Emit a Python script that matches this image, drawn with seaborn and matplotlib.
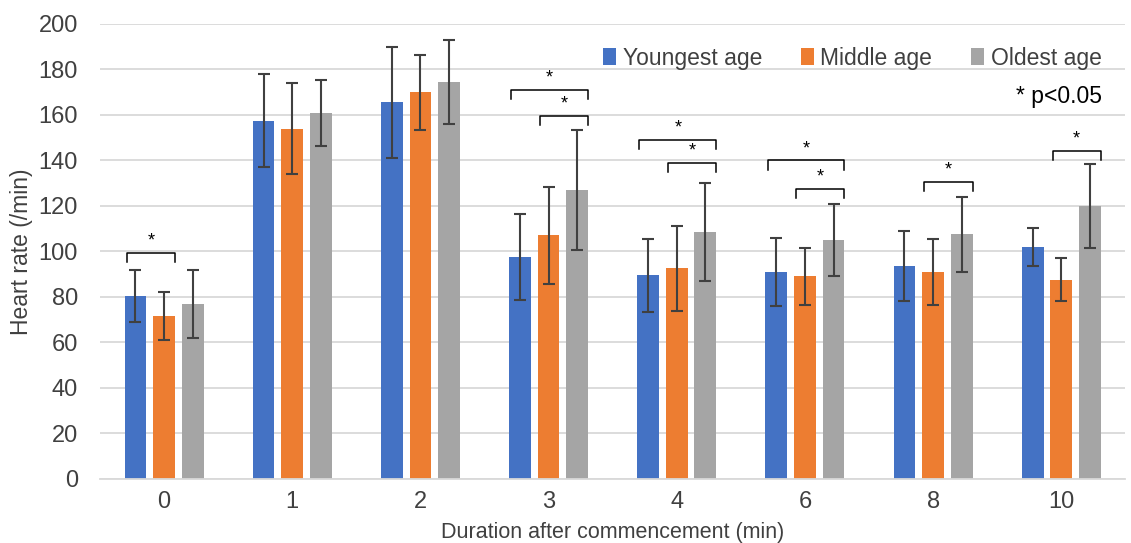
import numpy as np
import pandas as pd
import matplotlib
matplotlib.use('Agg')
import matplotlib.pyplot as plt
import seaborn as sns

# heart rate by time point and age group (mean, SD)
durations = ['0', '1', '2', '3', '4', '6', '8', '10']
groups = ['Youngest age', 'Middle age', 'Oldest age']
youngest = [80.5, 157.5, 165.5, 97.5, 89.5, 91.0, 93.5, 102.0]
youngest_sd = [11.5, 20.5, 24.5, 19.0, 16.0, 15.0, 15.5, 8.5]
middle = [71.5, 154.0, 170.0, 107.0, 92.5, 89.0, 91.0, 87.5]
middle_sd = [10.5, 20.0, 16.5, 21.5, 18.5, 12.5, 14.5, 9.5]
oldest = [77.0, 161.0, 174.5, 127.0, 108.5, 105.0, 107.5, 120.0]
oldest_sd = [15.0, 14.5, 18.5, 26.5, 21.5, 16.0, 16.5, 18.5]

# significance brackets: (duration index, first group, second group, height)
brackets = [(0, 0, 1, 99.5), (3, 0, 2, 171), (3, 1, 2, 159.5),
            (4, 0, 2, 149), (4, 1, 2, 139), (5, 0, 2, 140),
            (5, 1, 2, 127.5), (6, 1, 2, 130.5), (7, 1, 2, 144)]

colors = ['#4472C4', '#ED7D31', '#A5A5A5']
txt = '#404040'

df = pd.DataFrame({
    'duration': durations * 3,
    'group': np.repeat(groups, len(durations)),
    'rate': youngest + middle + oldest,
    'sd': youngest_sd + middle_sd + oldest_sd,
})

plt.rcParams['font.family'] = ['Liberation Sans', 'DejaVu Sans']
fig = plt.figure(figsize=(11.31, 5.43), dpi=100)
ax = fig.add_axes([0.0884, 0.118, 0.9066, 0.838])

sns.barplot(data=df, x='duration', y='rate', hue='group', palette=colors,
            width=0.67, gap=0.24, errorbar=None, ax=ax, saturation=1)

# error bars, taken from the drawn bar positions
bar_sets = list(ax.containers)
edges = {}
for gi, cont in enumerate(bar_sets):
    sub = df[df['group'] == groups[gi]]
    xs = [p.get_x() + p.get_width() / 2 for p in cont.patches]
    edges[gi] = [(p.get_x(), p.get_x() + p.get_width()) for p in cont.patches]
    ax.errorbar(xs, sub['rate'], yerr=sub['sd'], fmt='none',
                ecolor=txt, elinewidth=1.5, capsize=4, capthick=1.5, zorder=3)

for d, g1, g2, h in brackets:
    l, r = edges[g1][d]
    x1 = l + 0.1 * (r - l)
    x2 = edges[g2][d][1]
    ax.plot([x1, x1, x2, x2], [h - 4, h, h, h - 4], color='black', lw=1.1)
    ax.text((x1 + x2) / 2, h + 1.5, '*', ha='center', va='bottom',
            fontsize=13, color='black')

ax.set_ylim(0, 200)
ax.set_yticks(range(0, 201, 20))
ax.set_xlim(-0.5, 7.5)
ax.yaxis.grid(True, color='#D9D9D9', lw=1.3)
ax.set_axisbelow(True)
for s in ['top', 'right', 'left']:
    ax.spines[s].set_visible(False)
ax.spines['bottom'].set_color('#D9D9D9')
ax.spines['bottom'].set_linewidth(1.3)
ax.tick_params(length=0, labelsize=17, colors=txt)
ax.tick_params(axis='y', pad=16)
ax.tick_params(axis='x', pad=9)
ax.set_xlabel('Duration after commencement (min)', fontsize=15.5, color=txt, labelpad=6)
ax.set_ylabel('Heart rate (/min)', fontsize=16.5, color=txt, labelpad=4)

ax.legend(loc='upper right', bbox_to_anchor=(0.997, 0.995), ncol=3, frameon=False,
          fontsize=16.5, handlelength=0.55, handleheight=0.75, handletextpad=0.3,
          columnspacing=1.7, labelcolor=txt)
ax.text(0.977, 0.84, '* p<0.05', transform=ax.transAxes, ha='right',
        va='center', fontsize=16.5, color='black')

fig.savefig('out.png', dpi=100)
